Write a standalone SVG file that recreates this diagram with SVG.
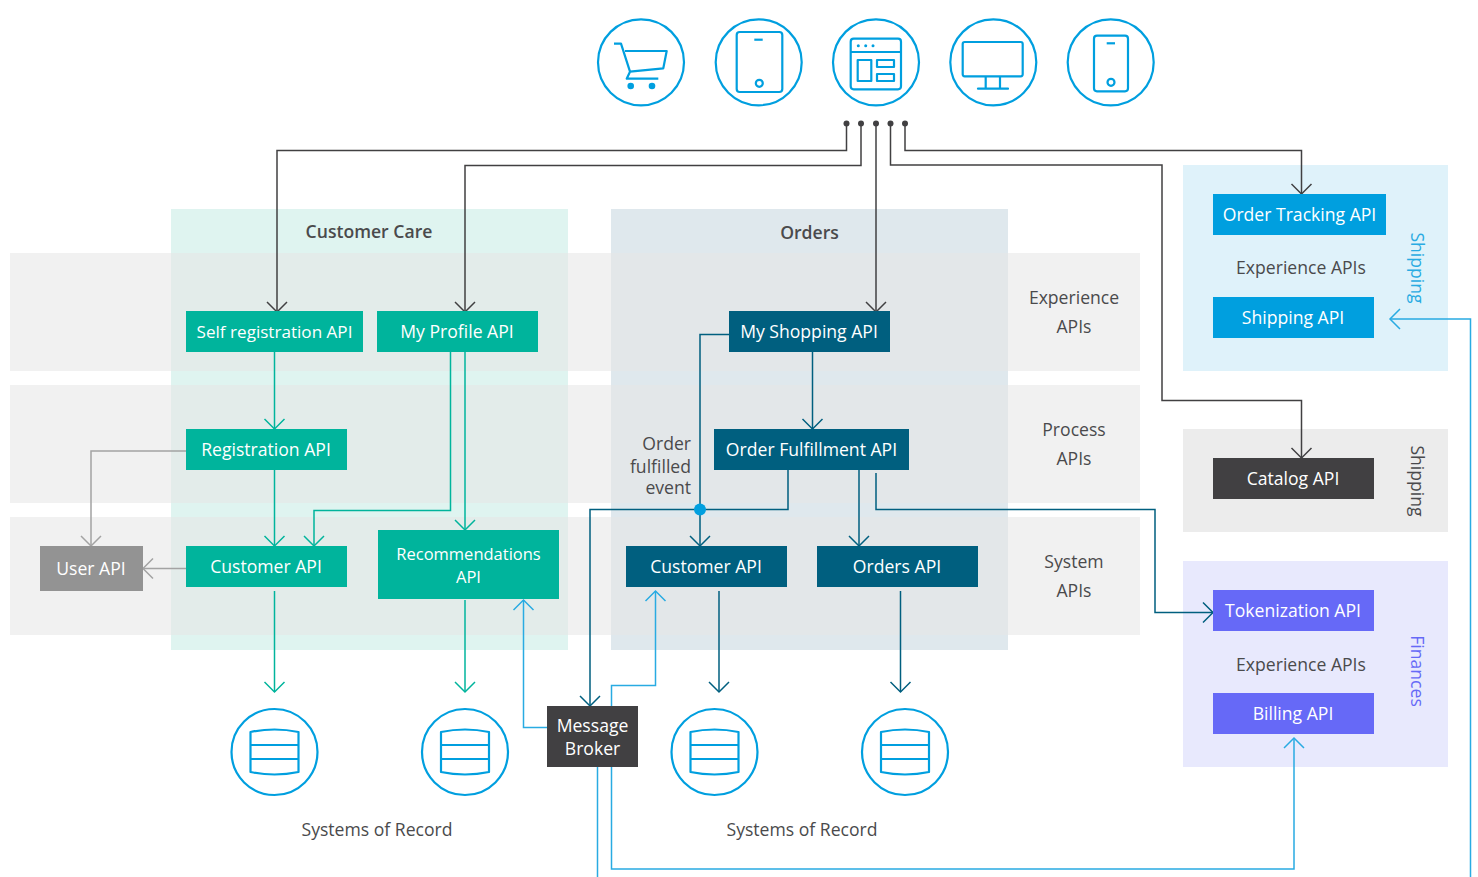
<svg xmlns="http://www.w3.org/2000/svg" width="1478" height="877" viewBox="0 0 1478 877">
<style>
text{font-family:"Open Sans","Liberation Sans",sans-serif;font-size:17.6px;fill:#4a4a4c;text-anchor:middle}
.w{fill:#fff}
.b{font-weight:600}
.band{fill:#e6e6e6;fill-opacity:.56}
.teal{fill:#00b49c}.navy{fill:#005f7f}.sky{fill:#009fdf}.pur{fill:#6669f7}.dk{fill:#414042}
.c{fill:none;stroke-width:1.5}
.ct{stroke:#00b49c}.cn{stroke:#005f7f}.cs{stroke:#29abe2}.cd{stroke:#414042}.cg{stroke:#a3a3a3}
.ic{fill:none;stroke:#009fdf;stroke-width:2.2;stroke-linejoin:round}
.ci{fill:#fff;stroke:#009fdf;stroke-width:2.2}
.f{fill:#009fdf}
</style>
<defs>
<marker id="an" markerUnits="userSpaceOnUse" markerWidth="24" markerHeight="24" refX="20" refY="12" orient="auto"><path d="M10 2L20 12L10 22" fill="none" stroke="#005f7f" stroke-width="1.5"/></marker>
<marker id="as" markerUnits="userSpaceOnUse" markerWidth="24" markerHeight="24" refX="20" refY="12" orient="auto"><path d="M10 2L20 12L10 22" fill="none" stroke="#29abe2" stroke-width="1.5"/></marker>
<marker id="ad" markerUnits="userSpaceOnUse" markerWidth="24" markerHeight="24" refX="20" refY="12" orient="auto"><path d="M10 2L20 12L10 22" fill="none" stroke="#414042" stroke-width="1.5"/></marker>
<marker id="ag" markerUnits="userSpaceOnUse" markerWidth="24" markerHeight="24" refX="20" refY="12" orient="auto"><path d="M10 2L20 12L10 22" fill="none" stroke="#a3a3a3" stroke-width="1.5"/></marker>
<marker id="at2" markerUnits="userSpaceOnUse" markerWidth="24" markerHeight="24" refX="20" refY="12" orient="auto"><path d="M10 2L20 12L10 22" fill="none" stroke="#00b49c" stroke-width="1.5"/></marker>
<marker id="dot" markerUnits="userSpaceOnUse" markerWidth="8" markerHeight="8" refX="4" refY="4"><circle cx="4" cy="4" r="3" fill="#414042"/></marker>
<g id="db"><circle class="ci" r="43"/><path class="ic" d="M-24 -20Q0 -25 24 -20V20Q0 25 -24 20ZM-24 -7H24M-24 7H24"/></g>
</defs>
<g id="areas">
<rect x="171" y="209" width="397" height="441" fill="#dff4f0"/>
<rect x="611" y="209" width="397" height="441" fill="#dfe8ed"/>
<rect class="band" x="10" y="253" width="1130" height="118"/>
<rect class="band" x="10" y="385" width="1130" height="118"/>
<rect class="band" x="10" y="517" width="1130" height="118"/>
<rect x="1183" y="165" width="265" height="206" fill="#dff2fa"/>
<rect x="1183" y="429" width="265" height="103" fill="#ececec"/>
<rect x="1183" y="561" width="265" height="206" fill="#e8e9fd"/>
</g>
<g id="labels">
<text class="b" x="369" y="238">Customer Care</text>
<text class="b" x="809.500" y="239">Orders</text>
<text x="1074"><tspan x="1074" y="304">Experience</tspan><tspan x="1074" y="333">APIs</tspan></text>
<text x="1074"><tspan x="1074" y="436">Process</tspan><tspan x="1074" y="465">APIs</tspan></text>
<text x="1074"><tspan x="1074" y="568">System</tspan><tspan x="1074" y="597">APIs</tspan></text>
<text style="text-anchor:end"><tspan x="691" y="450">Order</tspan><tspan x="691" y="473">fulfilled</tspan><tspan x="691" y="494">event</tspan></text>
<text x="1301" y="274">Experience APIs</text>
<text x="1301" y="671">Experience APIs</text>
<text x="377" y="836">Systems of Record</text>
<text x="802" y="836">Systems of Record</text>
<text transform="translate(1411 268) rotate(90)" style="fill:#29abe2">Shipping</text>
<text transform="translate(1411 481) rotate(90)">Shipping</text>
<text transform="translate(1411 671) rotate(90)" style="fill:#6669f7">Finances</text>
</g>
<g id="connectors">
<g class="c cd">
<path marker-start="url(#dot)" marker-end="url(#ad)" d="M846.500 123.500V150.500H277V312"/>
<path marker-start="url(#dot)" marker-end="url(#ad)" d="M861 123.500V165.500H465V312"/>
<path marker-start="url(#dot)" marker-end="url(#ad)" d="M876 123.500V312"/>
<path marker-start="url(#dot)" marker-end="url(#ad)" d="M890.500 123.500V165H1162V400.500H1301.500V458"/>
<path marker-start="url(#dot)" marker-end="url(#ad)" d="M905 123.500V150.500H1301.500V194"/>
</g>
<g class="c ct">
<path marker-end="url(#at2)" d="M274.500 352V429"/>
<path marker-end="url(#at2)" d="M274.500 470V546"/>
<path marker-end="url(#at2)" d="M450.500 352V510.500H314V546"/>
<path marker-end="url(#at2)" d="M465 352V530"/>
<path marker-end="url(#at2)" d="M274.500 591V692"/>
<path marker-end="url(#at2)" d="M465 600V692"/>
</g>
<g class="c cg">
<path marker-end="url(#ag)" d="M186 451H91V546"/>
<path marker-end="url(#ag)" d="M186 568.500H143"/>
</g>
<g class="c cn">
<path marker-end="url(#an)" d="M729 334.500H700V546"/>
<path marker-end="url(#an)" d="M812.500 352V429"/>
<path marker-end="url(#an)" d="M788 470V509.500H590V706"/>
<path marker-end="url(#an)" d="M859 470V546"/>
<path marker-end="url(#an)" d="M876 473V509.500H1155V612.500H1213"/>
<path marker-end="url(#an)" d="M719 591V692"/>
<path marker-end="url(#an)" d="M900.500 591V692"/>
</g>
<g class="c cs">
<path marker-end="url(#as)" d="M547 727.500H523.500V600"/>
<path marker-end="url(#as)" d="M611.500 706V685.500H655.500V591"/>
<path marker-end="url(#as)" d="M611.500 767V869H1294V738"/>
<path d="M597.500 767V877"/>
<path marker-end="url(#as)" d="M1470.500 877V319H1390"/>
</g>
<circle cx="700" cy="509.500" r="6" fill="#009fdf"/>
</g>
<g id="icon-cart"><circle class="ci" cx="641" cy="62.300" r="43"/><path class="ic" d="M614 43.700H621L630 71.700L626.700 78.700H658.300M625 51H666.700L663.300 68.300L630 71.700"/><circle class="f" cx="630.700" cy="86" r="3.300"/><circle class="f" cx="652" cy="86" r="3.300"/></g>
<g id="icon-tablet"><circle class="ci" cx="758.700" cy="62.300" r="43"/><rect class="ic" x="736.700" y="32" width="45.600" height="60" rx="3"/><path class="ic" d="M754.300 39.700H762.700"/><circle class="ic" cx="759.300" cy="83.300" r="3.500"/></g>
<g id="icon-web"><circle class="ci" cx="876" cy="62.300" r="43"/><rect class="ic" x="850.700" y="38.700" width="50.300" height="50.600" rx="3"/><path class="ic" d="M850.700 52H901M857.700 60H871.300V81H857.700ZM877 60H894V67H877ZM877 74H894V81H877Z"/><circle class="f" cx="858.300" cy="45.700" r="1.500"/><circle class="f" cx="865.700" cy="45.700" r="1.500"/><circle class="f" cx="873" cy="45.700" r="1.500"/></g>
<g id="icon-desktop"><circle class="ci" cx="993.300" cy="62.300" r="43"/><rect class="ic" x="962.700" y="42" width="60" height="34.300" rx="2"/><path class="ic" d="M985.700 76.300V88.700M1000 76.300V88.700"/><path class="ic" stroke-linecap="round" d="M978 88.700H1008"/></g>
<g id="icon-phone"><circle class="ci" cx="1110.700" cy="62.300" r="43"/><rect class="ic" x="1094" y="35.700" width="34" height="55.600" rx="3"/><path class="ic" d="M1106.700 43.300H1115"/><circle class="ic" cx="1111" cy="82.300" r="3.500"/></g>
<g id="db1"><use href="#db" x="274.500" y="752"/></g>
<g id="db2"><use href="#db" x="465" y="752"/></g>
<g id="db3"><use href="#db" x="714.500" y="752"/></g>
<g id="db4"><use href="#db" x="905" y="752"/></g>
<g id="n-selfreg"><rect class="teal" x="186" y="311" width="177" height="41"/><text class="w" style="font-size:17.100px" x="274.500" y="338">Self registration API</text></g>
<g id="n-profile"><rect class="teal" x="377" y="311" width="161" height="41"/><text class="w" x="457" y="338">My Profile API</text></g>
<g id="n-registration"><rect class="teal" x="186" y="429" width="161" height="41"/><text class="w" x="266" y="456">Registration API</text></g>
<g id="n-customer1"><rect class="teal" x="186" y="546" width="161" height="41"/><text class="w" x="266" y="573">Customer API</text></g>
<g id="n-reco"><rect class="teal" x="378" y="530" width="181" height="69"/><text class="w" style="font-size:16.500px"><tspan x="468.500" y="560">Recommendations</tspan><tspan x="468.500" y="583">API</tspan></text></g>
<g id="n-user"><rect x="40" y="546" width="103" height="45" fill="#939393"/><text class="w" x="91" y="575">User API</text></g>
<g id="n-shopping"><rect class="navy" x="729" y="311" width="161" height="41"/><text class="w" x="809" y="338">My Shopping API</text></g>
<g id="n-fulfil"><rect class="navy" x="714" y="429" width="195" height="41"/><text class="w" x="811.500" y="456">Order Fulfillment API</text></g>
<g id="n-customer2"><rect class="navy" x="626" y="546" width="161" height="41"/><text class="w" x="706" y="573">Customer API</text></g>
<g id="n-orders"><rect class="navy" x="817" y="546" width="161" height="41"/><text class="w" x="897" y="573">Orders API</text></g>
<g id="n-broker"><rect class="dk" x="547" y="706" width="91" height="61"/><text class="w"><tspan x="592.500" y="732">Message</tspan><tspan x="592.500" y="755">Broker</tspan></text></g>
<g id="n-tracking"><rect class="sky" x="1213" y="194" width="173" height="41"/><text class="w" x="1299.500" y="221">Order Tracking API</text></g>
<g id="n-shippingapi"><rect class="sky" x="1213" y="297" width="161" height="41"/><text class="w" x="1293" y="324">Shipping API</text></g>
<g id="n-catalog"><rect class="dk" x="1213" y="458" width="161" height="41"/><text class="w" x="1293" y="485">Catalog API</text></g>
<g id="n-token"><rect class="pur" x="1213" y="590" width="161" height="41"/><text class="w" x="1293" y="617">Tokenization API</text></g>
<g id="n-billing"><rect class="pur" x="1213" y="693" width="161" height="41"/><text class="w" x="1293" y="720">Billing API</text></g>
</svg>
